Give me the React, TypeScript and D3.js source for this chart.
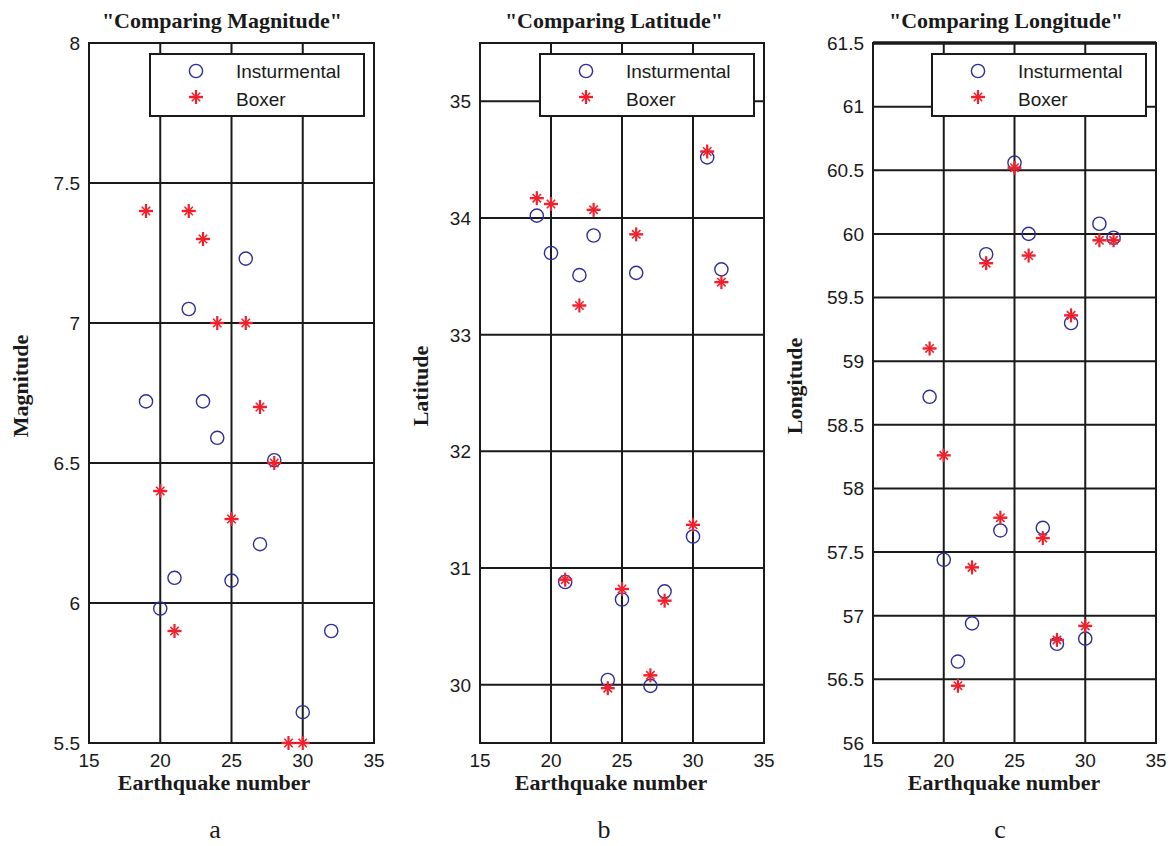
import React from "react";
import * as d3 from "d3";

// ---- Data ----
const magXInst = [19, 20, 21, 22, 23, 24, 25, 26, 27, 28, 30, 32];
const magInst = [6.72, 5.98, 6.09, 7.05, 6.72, 6.59, 6.08, 7.23, 6.21, 6.51, 5.61, 5.9];
const magXBox = [19, 20, 21, 22, 23, 24, 25, 26, 27, 28, 29, 30];
const magBox = [7.4, 6.4, 5.9, 7.4, 7.3, 7.0, 6.3, 7.0, 6.7, 6.5, 5.5, 5.5];

const latX = [19, 20, 21, 22, 23, 24, 25, 26, 27, 28, 30, 31, 32];
const latInst = [34.02, 33.7, 30.88, 33.51, 33.85, 30.04, 30.73, 33.53, 29.99, 30.8, 31.27, 34.52, 33.56];
const latBox = [34.17, 34.12, 30.9, 33.25, 34.07, 29.97, 30.82, 33.86, 30.08, 30.72, 31.37, 34.57, 33.45];

const lonX = [19, 20, 21, 22, 23, 24, 25, 26, 27, 28, 29, 30, 31, 32];
const lonInst = [58.72, 57.44, 56.64, 56.94, 59.84, 57.67, 60.56, 60.0, 57.69, 56.78, 59.3, 56.82, 60.08, 59.97];
const lonBox = [59.1, 58.26, 56.45, 57.38, 59.77, 57.77, 60.52, 59.83, 57.61, 56.81, 59.36, 56.92, 59.95, 59.95];

const xTicks = [15, 20, 25, 30, 35];
const magTicks = [5.5, 6, 6.5, 7, 7.5, 8];
const latTicks = [30, 31, 32, 33, 34, 35];
const lonTicks = [56, 56.5, 57, 57.5, 58, 58.5, 59, 59.5, 60, 60.5, 61, 61.5];

const titles = ['"Comparing Magnitude"', '"Comparing Latitude"', '"Comparing Longitude"'];
const yLabels = ["Magnitude", "Latitude", "Longitude"];
const panelLetters = ["a", "b", "c"];
const legendLabels = ["Insturmental", "Boxer"];

const BLUE = "#2e2e9a";
const RED = "#f0202c";
const INK = "#1a1a1a";
const SANS = "'Liberation Sans', Arial, Helvetica, sans-serif";
const SERIF = "'Liberation Serif', 'Times New Roman', serif";

type PanelSpec = {
  left: number;
  right: number;
  yDomain: [number, number];
  yTicks: number[];
  instX: number[];
  inst: number[];
  boxX: number[];
  box: number[];
  title: string;
  titleX: number;
  xLabelX: number;
  letterX: number;
  yLabel: string;
  yLabelX: number;
  letter: string;
  legendLeft: number;
  thickTop?: boolean;
};

const TOP = 43;
const BOTTOM = 743;

const panels: PanelSpec[] = [
  {
    left: 89, right: 374, yDomain: [5.5, 8], yTicks: magTicks,
    instX: magXInst, inst: magInst, boxX: magXBox, box: magBox,
    title: titles[0], titleX: 222, xLabelX: 214, letterX: 215,
    yLabel: yLabels[0], yLabelX: 28, letter: panelLetters[0], legendLeft: 150,
  },
  {
    left: 480, right: 764, yDomain: [29.5, 35.5], yTicks: latTicks,
    instX: latX, inst: latInst, boxX: latX, box: latBox,
    title: titles[1], titleX: 614, xLabelX: 611, letterX: 604,
    yLabel: yLabels[1], yLabelX: 428, letter: panelLetters[1], legendLeft: 540,
  },
  {
    left: 873, right: 1156, yDomain: [56, 61.5], yTicks: lonTicks,
    instX: lonX, inst: lonInst, boxX: lonX, box: lonBox,
    title: titles[2], titleX: 1006, xLabelX: 1004, letterX: 1000,
    yLabel: yLabels[2], yLabelX: 802, letter: panelLetters[2], legendLeft: 932, thickTop: true,
  },
];

function Star({ x, y }: { x: number; y: number }) {
  const r = 7;
  const d = 4.2;
  return (
    <g stroke={RED} strokeLinecap="butt">
      <line x1={x - r} y1={y} x2={x + r} y2={y} strokeWidth={2.4} />
      <line x1={x} y1={y - r} x2={x} y2={y + r} strokeWidth={2.2} />
      <line x1={x - d} y1={y - d} x2={x + d} y2={y + d} strokeWidth={1.6} />
      <line x1={x - d} y1={y + d} x2={x + d} y2={y - d} strokeWidth={1.6} />
    </g>
  );
}

function Circle({ x, y }: { x: number; y: number }) {
  return <circle cx={x} cy={y} r={6.6} fill="none" stroke={BLUE} strokeWidth={1.4} />;
}

function Panel({ p }: { p: PanelSpec }) {
  const xs = d3.scaleLinear().domain([15, 35]).range([p.left, p.right]);
  const ys = d3.scaleLinear().domain(p.yDomain).range([BOTTOM, TOP]);
  const lg = p.legendLeft;
  return (
    <g>
      {/* grid */}
      {xTicks.map((t) => (
        <line key={"gx" + t} x1={xs(t)} x2={xs(t)} y1={TOP} y2={BOTTOM} stroke={INK} strokeWidth={2} />
      ))}
      {p.yTicks.map((t) => (
        <line key={"gy" + t} x1={p.left} x2={p.right} y1={ys(t)} y2={ys(t)} stroke={INK} strokeWidth={2} />
      ))}
      <rect x={p.left} y={TOP} width={p.right - p.left} height={BOTTOM - TOP} fill="none" stroke={INK} strokeWidth={2} />
      {p.thickTop && <line x1={p.left} x2={p.right} y1={TOP} y2={TOP} stroke={INK} strokeWidth={3.5} />}
      {/* tick labels */}
      {xTicks.map((t) => (
        <text key={"tx" + t} x={xs(t)} y={767} textAnchor="middle" fontFamily={SANS} fontSize={19} fill={INK}>
          {t}
        </text>
      ))}
      {p.yTicks.map((t) => (
        <text key={"ty" + t} x={p.left - 9} y={ys(t)} dy="0.36em" textAnchor="end" fontFamily={SANS} fontSize={19} fill={INK}>
          {t}
        </text>
      ))}
      {/* points */}
      {p.inst.map((v, i) => (
        <Circle key={"c" + i} x={xs(p.instX[i])} y={ys(v)} />
      ))}
      {p.box.map((v, i) => (
        <Star key={"s" + i} x={xs(p.boxX[i])} y={ys(v)} />
      ))}
      {/* legend */}
      <rect x={lg} y={54} width={214} height={62} fill="#fff" stroke={INK} strokeWidth={2} />
      <Circle x={lg + 46} y={71} />
      <Star x={lg + 46} y={97} />
      <text x={lg + 86} y={78} fontFamily={SANS} fontSize={19} fill={INK}>{legendLabels[0]}</text>
      <text x={lg + 86} y={106} fontFamily={SANS} fontSize={19} fill={INK}>{legendLabels[1]}</text>
      {/* labels */}
      <text x={p.titleX} y={28} textAnchor="middle" fontFamily={SERIF} fontWeight="bold" fontSize={22} fill={INK}>
        {p.title}
      </text>
      <text x={p.xLabelX} y={790} textAnchor="middle" fontFamily={SERIF} fontWeight="bold" fontSize={22} fill={INK}>
        Earthquake number
      </text>
      <text
        transform={`translate(${p.yLabelX},386) rotate(-90)`}
        textAnchor="middle"
        fontFamily={SERIF}
        fontWeight="bold"
        fontSize={22}
        fill={INK}
      >
        {p.yLabel}
      </text>
      <text x={p.letterX} y={838} textAnchor="middle" fontFamily={SERIF} fontSize={26} fill={INK}>
        {p.letter}
      </text>
    </g>
  );
}

export default function App() {
  return (
    <svg
      width={1171}
      height={846}
      style={{ position: "absolute", left: 0, top: 0, background: "#fff" }}
    >
      <rect width={1171} height={846} fill="#fff" />
      {panels.map((p, i) => (
        <Panel key={i} p={p} />
      ))}
    </svg>
  );
}
